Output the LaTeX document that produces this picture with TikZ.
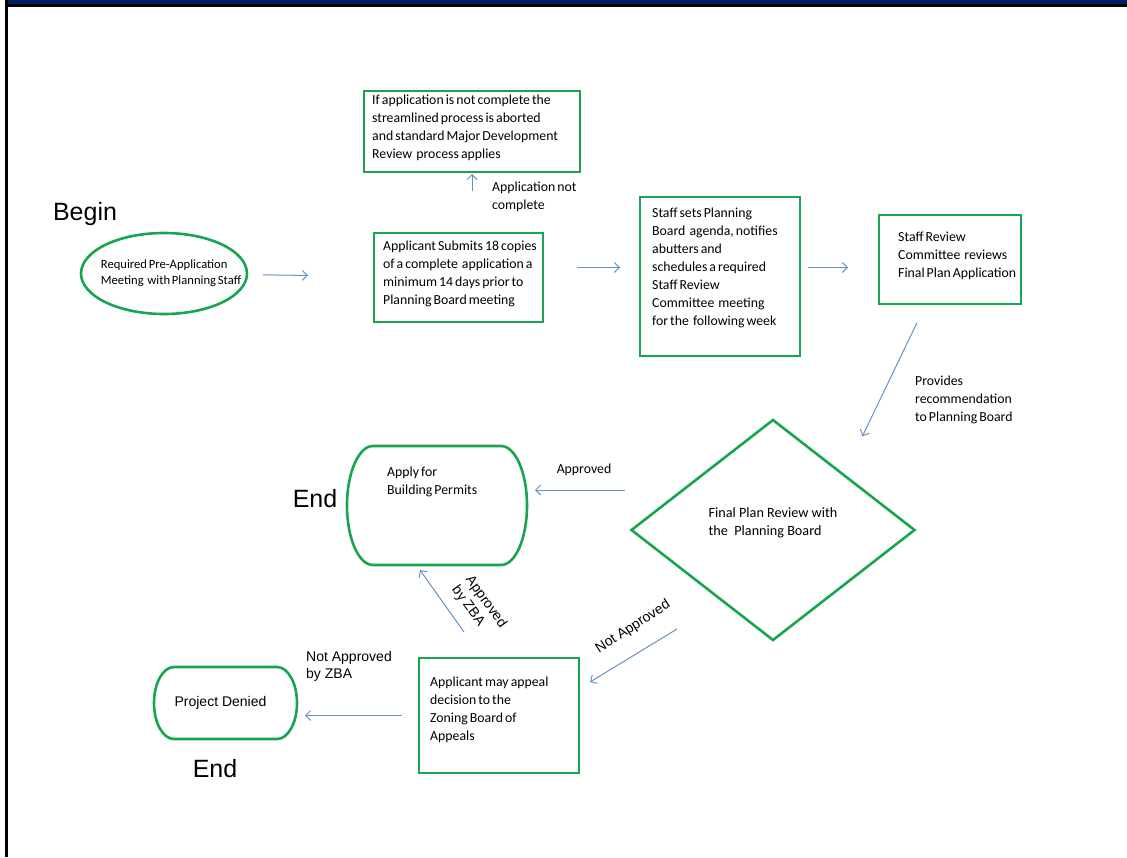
\documentclass[tikz,border=0pt]{standalone}
\usepackage{fontspec}
\setmainfont[WordSpace=0.65]{Carlito}
\newfontfamily\arialfont{Liberation Sans}
\newfontfamily\wideflow{Carlito}
\usetikzlibrary{arrows.meta,shapes.geometric}
\definecolor{flowgreen}{RGB}{25,165,80}
\definecolor{flowblue}{RGB}{105,145,195}
\definecolor{barnavy}{RGB}{0,32,96}
\tikzset{
    flow/.cd,
    line/.style={draw=flowgreen,line width=2.6pt},
    box/.style={flow/line,outer sep=0pt,inner sep=0pt},
    oval/.style={flow/box,ellipse},
    pill/.style={outer sep=0pt,inner sep=0pt},
    decision/.style={flow/box,diamond},
    text/.style={anchor=base west,align=flush left,text width=220pt,inner sep=0pt,font=\fontsize{13.8}{18}\selectfont},
    ctext/.style={align=left,inner sep=0pt,font=\fontsize{13.8}{18}\selectfont},
    arial/.style={align=left,inner sep=0pt,font=\arialfont\fontsize{14}{17}\selectfont},
    big/.style={inner sep=0pt,font=\arialfont\fontsize{25}{30}\selectfont},
    arrow/.style={draw=flowblue,line width=1pt,-{Straight Barb[length=5pt,width=10pt]}},
}

\begin{document}
\begin{tikzpicture}[x=1pt,y=-1pt]
  \useasboundingbox (0,0) rectangle (1127,857);
  % frame
  \fill[barnavy] (7,0) rectangle (1127,4);
  \fill (5,4) rectangle (1127,6.5);
  \fill (5,0) rectangle (7.5,857);

  % shapes
  \node[flow/oval,minimum width=166pt,minimum height=81pt] (pre) at (164,273.5) {};
  \node[flow/box,minimum width=216pt,minimum height=81pt] (abort) at (472,131.5) {};
  \node[flow/box,minimum width=169pt,minimum height=89pt] (submit) at (458.5,277.5) {};
  \node[flow/box,minimum width=160pt,minimum height=159pt] (staff) at (720,276.5) {};
  \node[flow/box,minimum width=142pt,minimum height=89pt] (review) at (950,259.5) {};
  \node[flow/decision,minimum width=283pt,minimum height=220pt] (dec) at (773,530) {};
  \node[flow/pill,minimum width=180pt,minimum height=119pt] (apply) at (437,505.5) {};
  \node[flow/box,minimum width=160pt,minimum height=115pt] (appeal) at (499,715.5) {};
  \node[flow/pill,minimum width=143pt,minimum height=72pt] (denied) at (225.5,703) {};

  % pill outlines
  \draw[flow/line] ([xshift=26pt]apply.north west) -- ([xshift=-26pt]apply.north east)
    arc[start angle=90,end angle=-90,x radius=26pt,y radius=59.5pt]
    -- ([xshift=26pt]apply.south west)
    arc[start angle=-90,end angle=-270,x radius=26pt,y radius=59.5pt] -- cycle;
  \draw[flow/line] ([xshift=20pt]denied.north west) -- ([xshift=-20pt]denied.north east)
    arc[start angle=90,end angle=-90,x radius=20pt,y radius=36pt]
    -- ([xshift=20pt]denied.south west)
    arc[start angle=-90,end angle=-270,x radius=20pt,y radius=36pt] -- cycle;

  % texts
  \node[flow/ctext,font=\fontsize{12.6}{16}\selectfont] (pre-t) at ([xshift=7pt]pre) {Required Pre-Application\\Meeting\ \ with Planning Staff};
  \node[flow/text] (abort-t) at ([shift={(8pt,-13.5pt)}]abort.north west) {If application is not complete the\\streamlined process is aborted\\and standard Major Development\\Review\ \ process applies};
  \node[flow/text] (submit-t) at ([shift={(9pt,-17pt)}]submit.north west) {Applicant Submits 18 copies\\of a complete\ \ application a\\minimum 14 days prior to\\Planning Board meeting};
  \node[flow/text] (staff-t) at ([shift={(12pt,-20pt)}]staff.north west) {Staff sets Planning\\Board\ \ agenda, notifies\\abutters and\\schedules a required\\Staff Review\\Committee\ \ meeting\\for the\ \ following week};
  \node[flow/text] (review-t) at ([shift={(19pt,-26pt)}]review.north west) {Staff Review\\Committee\ \ reviews\\Final Plan Application};
  \node[flow/ctext,font=\wideflow\fontsize{14.2}{18}\selectfont] (dec-t) at ([yshift=7.5pt]dec) {Final Plan Review with\\the\ \ Planning Board};
  \node[flow/text] (apply-t) at ([shift={(-50pt,-30pt)}]apply.north) {Apply for\\Building Permits};
  \node[flow/text] (appeal-t) at ([shift={(11pt,-28pt)}]appeal.north west) {Applicant may appeal\\decision to the\\Zoning Board of\\Appeals};
  \node[flow/arial] (denied-t) at ([xshift=-5pt]denied) {Project Denied};

  \node[flow/big] (begin) at (85,214) {Begin};
  \node[flow/big] (end1) at (315,499) {End};
  \node[flow/big] (end2) at (215,769) {End};

  % connectors
  \coordinate (appr) at ([yshift=15.5pt]apply.east);
  \draw[flow/arrow,shorten <=16pt,shorten >=66pt] (pre) -- (submit);
  \draw[flow/arrow,shorten <=34pt,shorten >=20pt] ([yshift=10pt]submit.east) -- ([yshift=9pt]staff.west);
  \draw[flow/arrow,shorten <=8pt,shorten >=31pt] ([yshift=9pt]staff.east) -- ([yshift=-8pt]review.west);
  \draw[flow/arrow,shorten <=42pt,shorten >=2pt] (submit.north -| abort.south) -- (abort.south);
  \draw[flow/arrow,shorten <=21pt,shorten >=43pt] ([xshift=-24pt]review.south) -- (dec.north east);
  \draw[flow/arrow,shorten <=7pt,shorten >=8pt] (dec.west |- appr) -- (appr);
  \draw[flow/arrow] ([shift={(-96pt,11pt)}]dec.south) -- ([shift={(11pt,33.5pt)}]appeal.east);
  \draw[flow/arrow] ([shift={(-35pt,26pt)}]appeal.north) -- ([shift={(-17pt,-5pt)}]apply.south);
  \draw[flow/arrow,shorten <=17pt,shorten >=8pt] (appeal.west) -- (appeal.west -| denied.east);

  % connector labels
  \node[flow/text] (notcomplete) at (492,191.5) {Application not\\complete};
  \node[flow/text] (provides) at (915,385) {Provides\\recommendation\\to Planning Board};
  \node[flow/ctext] (approved) at (584,470) {Approved};
  \node[flow/arial,rotate=33] (notapproved) at (633,627) {Not Approved};
  \node[flow/arial,rotate=-54] (zbaok) at (479,607) {Approved\\by ZBA};
  \node[flow/arial,anchor=base west] (zbano) at (306,678) {Not Approved\\by ZBA};
\end{tikzpicture}
\end{document}
